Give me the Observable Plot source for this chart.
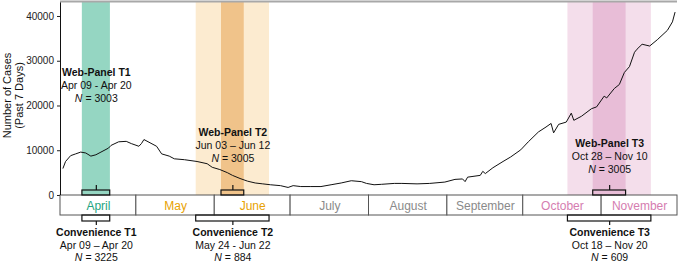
<!DOCTYPE html>
<html><head><meta charset="utf-8">
<script src="https://cdn.jsdelivr.net/npm/d3@7"></script>
<script src="https://cdn.jsdelivr.net/npm/@observablehq/plot@0.6"></script>
<style>html,body{margin:0;padding:0;background:#fff;}</style>
</head><body><div id="chart"></div>
<script>
// ---- data ----
const dates = ["2020-04-02","2020-04-03","2020-04-05","2020-04-07","2020-04-09","2020-04-11","2020-04-13","2020-04-15","2020-04-17","2020-04-20","2020-04-21","2020-04-24","2020-04-27","2020-04-29",
"2020-05-02","2020-05-03","2020-05-04","2020-05-06","2020-05-09","2020-05-11","2020-05-14","2020-05-16","2020-05-20","2020-05-25","2020-05-29","2020-05-31",
"2020-06-03","2020-06-06","2020-06-08","2020-06-11","2020-06-14","2020-06-17","2020-06-20","2020-06-23","2020-06-27","2020-06-30",
"2020-07-02","2020-07-05","2020-07-09","2020-07-13","2020-07-17","2020-07-21","2020-07-25","2020-07-29","2020-07-31",
"2020-08-03","2020-08-06","2020-08-11","2020-08-14","2020-08-20","2020-08-25","2020-08-31",
"2020-09-04","2020-09-07","2020-09-08","2020-09-09","2020-09-14","2020-09-15","2020-09-16","2020-09-19","2020-09-23","2020-09-26","2020-09-30",
"2020-10-03","2020-10-07","2020-10-10","2020-10-12","2020-10-13","2020-10-15","2020-10-18","2020-10-20","2020-10-21","2020-10-24","2020-10-28","2020-10-30",
"2020-11-02","2020-11-03","2020-11-06","2020-11-08","2020-11-10","2020-11-12","2020-11-14","2020-11-15","2020-11-17","2020-11-20","2020-11-23","2020-11-27","2020-11-29","2020-11-30"];
const cases = [6100,7600,8900,9300,9700,9500,8800,9100,9700,10600,11200,12000,12100,11600,
11000,11600,12500,11900,11000,9300,8800,8200,8000,7600,7100,6300,
5800,5100,4500,3800,3200,2800,2600,2400,2200,1800,
2200,2000,2000,2000,2400,2800,3300,3100,2700,
2400,2500,2700,2700,2600,2700,3000,
3600,3700,3100,4100,4500,5400,4900,6200,7600,8600,10200,
12000,14200,15300,16100,14000,15900,16400,18400,16800,17700,19400,19800,
22200,21800,23900,24800,27500,28800,32000,32700,33800,33400,34800,36900,38800,40900];

const months = ["April","May","June","July","August","September","October","November"];
const monthStarts = ["2020-04-01","2020-05-01","2020-06-01","2020-07-01","2020-08-01","2020-09-01","2020-10-01","2020-11-01","2020-12-01"];
const yTicks = [0,10000,20000,30000,40000];

const webNames = ["Web-Panel T1","Web-Panel T2","Web-Panel T3"];
const webStarts = ["2020-04-09","2020-06-03","2020-10-28"];
const webEnds = ["2020-04-20","2020-06-12","2020-11-10"];
const webRanges = ["Apr 09 - Apr 20","Jun 03 \u2013 Jun 12","Oct 28 \u2013 Nov 10"];
const webN = [3003,3005,3005];

const convNames = ["Convenience T1","Convenience T2","Convenience T3"];
const convStarts = ["2020-04-09","2020-05-24","2020-10-18"];
const convEnds = ["2020-04-20","2020-06-22","2020-11-20"];
const convRanges = ["Apr 09 \u2013 Apr 20","May 24 - Jun 22","Oct 18 \u2013 Nov 20"];
const convN = [3225,884,609];

// ---- styles / layout ----
const monthColor = {April:"#1ea57f",May:"#e8a202",June:"#e8a202",July:"#8a8a8a",August:"#8a8a8a",September:"#8a8a8a",October:"#d57db0",November:"#d57db0"};
const convFill = ["#a5ddcc","#fcebd0","#f4deeb"];
const webFill = ["#95d6c2","#f0c38a","#e8bdd7"];
const webLabelY = [27400, 14000, 11500];
const yTop = 43350;

const shift = s => new Date(+new Date(s) + 16*3600e3);
const series = dates.map((d,i)=>({date:new Date(d), cases:cases[i]}));
const web = webNames.map((n,i)=>{const x1=shift(webStarts[i]), x2=shift(webEnds[i]);
  return {name:n, x1, x2, mid:new Date((+x1 + +x2)/2), range:webRanges[i], n:webN[i], i};});
const conv = convNames.map((n,i)=>{const x1=shift(convStarts[i]), x2=shift(convEnds[i]);
  return {name:n, x1, x2, mid:new Date((+x1 + +x2)/2), range:convRanges[i], n:convN[i], i};});
const monthCells = months.map((m,i)=>{const x1=new Date(monthStarts[i]), x2=new Date(monthStarts[i+1]);
  return {name:m, x1, x2, mid:new Date((+x1 + +x2)/2)};});

const chart = Plot.plot({
  width: 678, height: 262,
  marginLeft: 60, marginRight: 1, marginTop: 1, marginBottom: 67,
  style: {fontFamily: "'Liberation Sans', Arial, sans-serif", fontSize: "10px", color: "#222", background: "#fff"},
  x: {type: "utc", domain: [new Date(monthStarts[0]), new Date(monthStarts[8])], axis: null},
  y: {domain: [0, yTop], ticks: yTicks, tickFormat: d => String(d), tickSize: 3, tickPadding: 3.5, label: null},
  marks: [
    Plot.rect(conv, {x1:"x1", x2:"x2", fill: d => convFill[d.i]}),
    Plot.rect(web, {x1:"x1", x2:"x2", fill: d => webFill[d.i]}),
    Plot.rect(monthCells, {x1:"x1", x2:"x2", y1:0, y2:0, insetBottom:-20, fill:"#fff", stroke:"#555", strokeWidth:1}),
    Plot.text(monthCells, {x:"mid", y:0, dy:10.5, text:"name", fill: d => monthColor[d.name], fontSize:12}),
    Plot.line(series, {x:"date", y:"cases", stroke:"#111", strokeWidth:1}),
    Plot.rect(web, {x1:"x1", x2:"x2", y1:0, y2:0, insetTop:-5, fill:"none", stroke:"#111", strokeWidth:1.2}),
    Plot.ruleX(web, {x:"mid", y1:0, y2:0, insetTop:-10, insetBottom:5, stroke:"#111", strokeWidth:1.2}),
    Plot.rect(conv, {x1:"x1", x2:"x2", y1:0, y2:0, insetTop:20, insetBottom:-26, fill:"none", stroke:"#111", strokeWidth:1.2}),
    Plot.ruleX(conv, {x:"mid", y1:0, y2:0, insetTop:26, insetBottom:-30, stroke:"#111", strokeWidth:1.2}),
    Plot.text(web, {x:"mid", y:(d)=>webLabelY[d.i], text:"name", fontWeight:"bold", fontSize:10.5, fill:"#111"}),
    Plot.text(web, {x:"mid", y:(d)=>webLabelY[d.i], dy:12.7, text:"range", fontSize:10.5, fill:"#111"}),
    Plot.text(web, {x:"mid", y:(d)=>webLabelY[d.i], dy:25.4, text:d=>"N = "+d.n, fontSize:10.5, fill:"#111"}),
    Plot.text(conv, {x:"mid", y:0, dy:37.5, text:"name", fontWeight:"bold", fontSize:10.5, fill:"#111"}),
    Plot.text(conv, {x:"mid", y:0, dy:50, text:"range", fontSize:10.5, fill:"#111"}),
    Plot.text(conv, {x:"mid", y:0, dy:62, text:d=>"N = "+d.n, fontSize:10.5, fill:"#111"}),
    Plot.text(["Number of Cases"], {frameAnchor:"left", text:d=>d, textAnchor:"middle", rotate:-90, dx:-53, dy:-3, fontSize:11, fill:"#111"}),
    Plot.text(["(Past 7 Days)"], {frameAnchor:"left", text:d=>d, textAnchor:"middle", rotate:-90, dx:-41, dy:-3, fontSize:11, fill:"#111"}),
    Plot.ruleX([new Date(monthStarts[0])], {stroke:"#111", strokeWidth:1}),
    Plot.ruleY([yTop], {stroke:"#a8a8a8", strokeWidth:2})
  ]
});

// italicize the "N" in sample-size labels
chart.querySelectorAll("text").forEach(t => {
  const s = t.textContent;
  if (s.startsWith("N = ") && t.children.length === 0) {
    t.textContent = "";
    const ts = document.createElementNS("http://www.w3.org/2000/svg", "tspan");
    ts.setAttribute("font-style", "italic");
    ts.textContent = "N";
    t.appendChild(ts);
    t.appendChild(document.createTextNode(s.slice(1)));
  }
});
document.getElementById("chart").appendChild(chart);
</script>
</body></html>
